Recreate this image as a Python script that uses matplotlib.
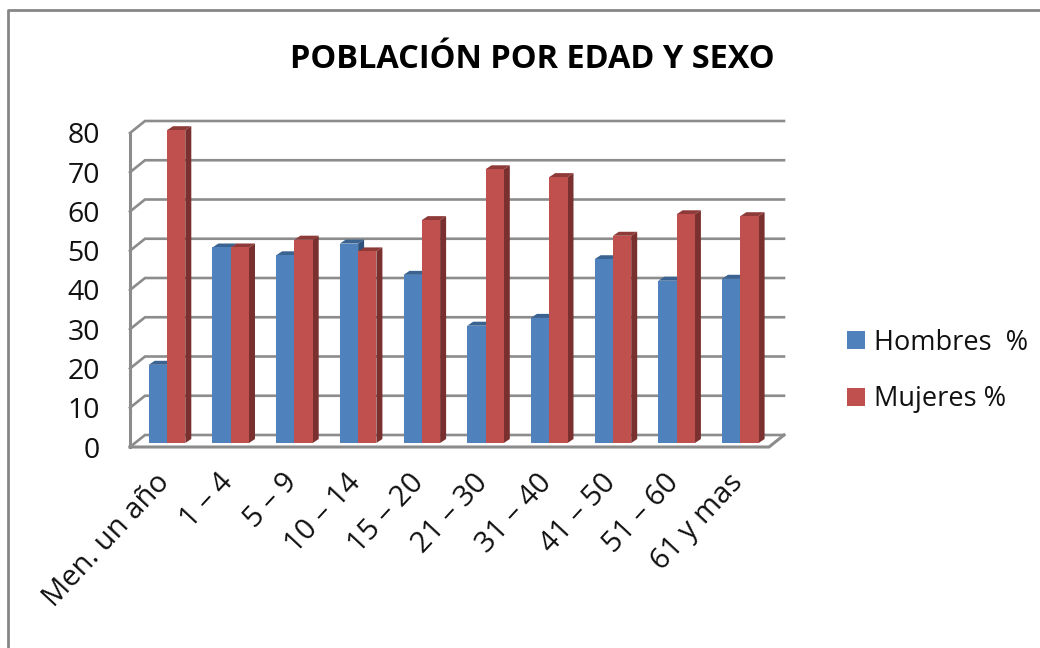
import numpy as np
import matplotlib
matplotlib.use('Agg')
import matplotlib.pyplot as plt
from matplotlib.lines import Line2D
from matplotlib.patches import Polygon

plt.rcParams['font.family'] = ['Open Sans', 'DejaVu Sans']

# Datos
categorias = ['Men. un año', '1 – 4', '5 – 9', '10 – 14', '15 – 20',
              '21 – 30', '31 – 40', '41 – 50', '51 – 60', '61 y mas']
hombres = [20, 50, 48, 51, 43, 30, 32, 47, 41.5, 42]
mujeres = [80, 50, 52, 49, 57, 70, 68, 53, 58.5, 58]
ticks_y = [0, 10, 20, 30, 40, 50, 60, 70, 80]

W, H = 1040, 648
fig = plt.figure(figsize=(W / 100, H / 100), dpi=100, facecolor='white')

# Ejes colocados en pixeles: suelo frontal abajo, pared del fondo arriba
x0, x1, y_bot, y_top = 130, 784, 447, 121
ax = fig.add_axes([x0 / W, 1 - y_bot / H, (x1 - x0) / W, (y_bot - y_top) / H])
paso = 63.7      # px por categoria
esc = 3.91       # px por unidad
ax.set_xlim((x0 - 167) / paso, (x1 - 167) / paso)
ax.set_ylim((443 - y_bot) / esc, (443 - y_top) / esc)
ax.axis('off')

# Profundidad del falso 3D
dx_bar, dy_bar = 6 / paso, 4 / esc
dx_pared, dy_pared = 15 / paso, 12 / esc
ancho = 18.3 / paso
y_frente = -4 / esc
x_izq = ax.get_xlim()[0]
x_der = ax.get_xlim()[1]
gris = '#8C8C8C'

# Paredes y lineas de rejilla
for t in ticks_y:
    yf = y_frente + t * 3.925 / esc
    yb = yf + dy_pared
    ax.plot([x_izq, x_izq + dx_pared, x_der], [yf, yb, yb], color=gris, lw=1.9,
            solid_joinstyle='miter', clip_on=False, zorder=1)
ax.plot([x_izq, x_izq], [y_frente, y_frente + 80 * 3.925 / esc], color=gris, lw=2.2,
        clip_on=False, zorder=1)
ax.plot([x_izq, x_der - dx_pared, x_der], [y_frente, y_frente, y_frente + dy_pared],
        color=gris, lw=2.2, clip_on=False, zorder=1)


def barras(xs, vals, color, arriba, lado, etiqueta, z):
    bs = ax.bar(xs, vals, ancho, color=color, label=etiqueta, zorder=z + 0.5)
    for x, v in zip(xs, vals):
        izq, der = x - ancho / 2, x + ancho / 2
        ax.add_patch(Polygon([(izq, v), (der, v), (der + dx_bar, v + dy_bar),
                              (izq + dx_bar, v + dy_bar)], color=arriba, lw=0, zorder=z))
        ax.add_patch(Polygon([(der, 0), (der + dx_bar, dy_bar), (der + dx_bar, v + dy_bar),
                              (der, v)], color=lado, lw=0, zorder=z))
    return bs


pos = np.arange(len(categorias))
barras(pos - ancho / 2, hombres, '#4F81BD', '#3A6391', '#2F527C', 'Hombres  %', 3)
barras(pos + ancho / 2, mujeres, '#C0504D', '#8E3A38', '#7A302E', 'Mujeres %', 4)

# Etiquetas de los ejes
for t in ticks_y:
    ax.text(x_izq - 30 / paso, y_frente + (t * 3.925 - 3.5) / esc, str(t), ha='right', va='center',
            fontsize=20.5, color='#111111', clip_on=False)
for x, c in zip(pos, categorias):
    ax.text(x - 2 / paso, -35 / esc, c, rotation=47, rotation_mode='anchor', ha='right',
            va='center', fontsize=21, color='#111111', clip_on=False)

fig.text(532 / W, 1 - 59 / H, 'POBLACIÓN POR EDAD Y SEXO', ha='center', va='center',
         fontsize=23.4, fontweight='bold', color='black')

fig.legend(loc='center left', bbox_to_anchor=(823 / W, 1 - 371 / H), frameon=False,
           fontsize=19.5, handlelength=0.66, handleheight=0.66, handletextpad=0.33,
           labelspacing=1.05, labelcolor='#111111')

# Marco del grafico
fig.add_artist(Line2D([8 / W, 8 / W, 1], [0, 1 - 10 / H, 1 - 10 / H], color='#868686', lw=2))

fig.savefig('out.png', dpi=100)
